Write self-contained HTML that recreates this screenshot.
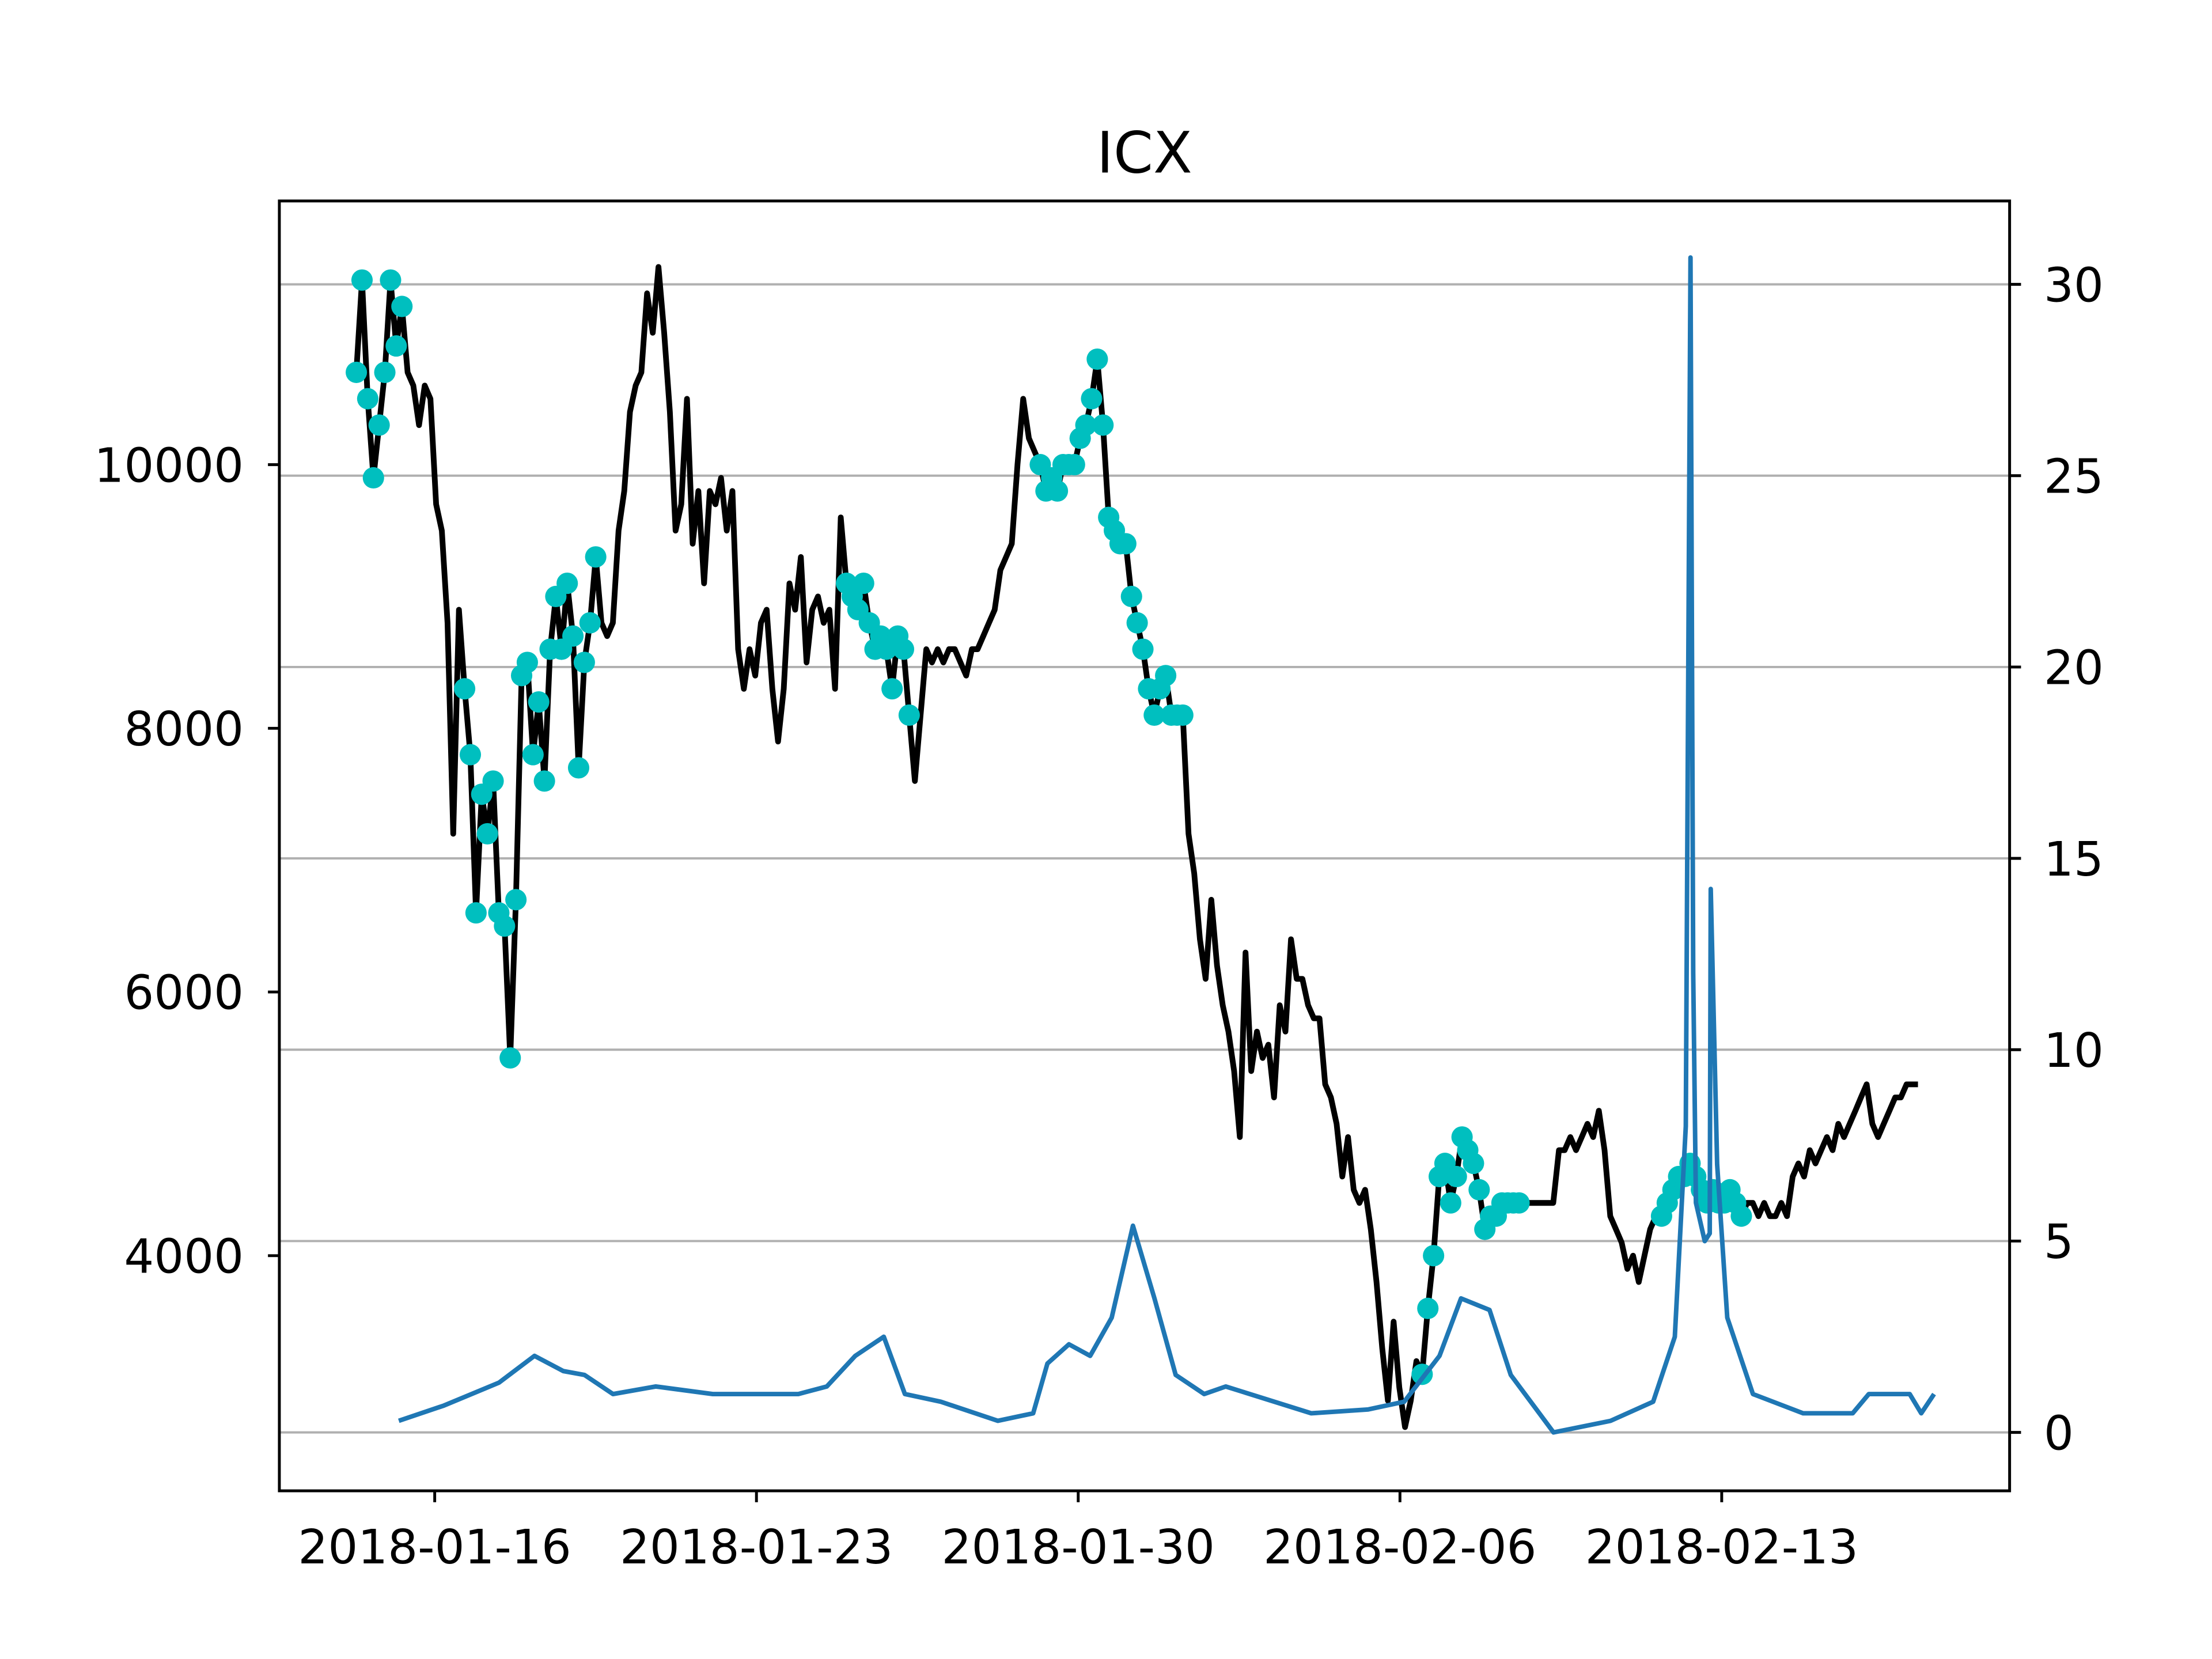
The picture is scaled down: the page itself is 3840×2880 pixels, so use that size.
<!DOCTYPE html>
<html><head><meta charset="utf-8"><style>
html,body{margin:0;padding:0;background:#fff}
svg{display:block;font-family:"DejaVu Sans","Liberation Sans",sans-serif}
</style></head><body>
<svg id="chart" width="3840" height="2880" viewBox="0 0 1552 1164" xmlns="http://www.w3.org/2000/svg">
<rect width="1552" height="1164" fill="#fff"/>
<text x="803" y="121" font-size="40" text-anchor="middle">ICX</text>
<g id="grid"></g><g id="series"></g>
<rect x="196" y="141" width="1214" height="905" fill="none" stroke="#000" stroke-width="2"/>
<g id="axes"></g>
</svg>
<script>
const xTickLabels = ["2018-01-16","2018-01-23","2018-01-30","2018-02-06","2018-02-13"];
const xTickDays = [0,7,14,21,28];
const leftTicks = [4000,6000,8000,10000];
const rightTicks = [0,5,10,15,20,25,30];
const priceStartDay = -1.705;
const priceStepDay = 0.124;
const priceValues = [10700,11400,10500,9900,10300,10700,11400,10900,11200,10700,10600,10300,10600,10500,9700,9500,8800,7200,8900,8300,7800,6600,7500,7200,7600,6600,6500,5500,6700,8400,8500,7800,8200,7600,8600,9000,8600,9100,8700,7700,8500,8800,9300,8800,8700,8800,9500,9800,10400,10600,10700,11300,11000,11500,11000,10400,9500,9700,10500,9400,9800,9100,9800,9700,9900,9500,9800,8600,8300,8600,8400,8800,8900,8300,7900,8300,9100,8900,9300,8500,8900,9000,8800,8900,8300,9600,9100,9000,8900,9100,8800,8600,8700,8600,8300,8700,8600,8100,7600,8100,8600,8500,8600,8500,8600,8600,8500,8400,8600,8600,8700,8800,8900,9200,9300,9400,10000,10500,10200,10100,10000,9800,9900,9800,10000,10000,10000,10200,10300,10500,10800,10300,9600,9500,9400,9400,9000,8800,8600,8300,8100,8300,8400,8100,8100,8100,7200,6900,6400,6100,6700,6200,5900,5700,5400,4900,6300,5400,5700,5500,5600,5200,5900,5700,6400,6100,6100,5900,5800,5800,5300,5200,5000,4600,4900,4500,4400,4500,4200,3800,3300,2900,3500,3000,2700,2900,3200,3100,3600,4000,4600,4700,4400,4600,4900,4800,4700,4500,4200,4300,4300,4400,4400,4400,4400,4400,4400,4400,4400,4400,4400,4800,4800,4900,4800,4900,5000,4900,5100,4800,4300,4200,4100,3900,4000,3800,4000,4200,4300,4300,4400,4500,4600,4600,4700,4600,4500,4400,4500,4400,4400,4500,4400,4300,4400,4400,4300,4400,4300,4300,4400,4300,4600,4700,4600,4800,4700,4800,4900,4800,5000,4900,5000,5100,5200,5300,5000,4900,5000,5100,5200,5200,5300,5300,5300];
const markerRanges = [[0,8],[19,42],[86,97],[120,145],[187,204],[229,243]];
const volDays = [-0.78,0.2,1.40,2.17,2.8,3.26,3.88,4.81,6.05,7.91,8.53,9.15,9.77,10.23,11.01,12.25,13.02,13.33,13.80,14.26,14.73,15.19,15.66,16.12,16.74,17.21,19.07,20.31,21.09,21.86,22.33,22.95,23.41,24.34,25.58,26.51,26.98,27.22,27.32,27.38,27.44,27.63,27.74,27.76,27.9,28.12,28.68,29.77,30.85,31.2,31.47,32.09,32.34,32.62];
const volValues = [0.3,0.7,1.3,2.0,1.6,1.5,1.0,1.2,1.0,1.0,1.2,2.0,2.5,1.0,0.8,0.3,0.5,1.8,2.3,2.0,3.0,5.4,3.5,1.5,1.0,1.2,0.5,0.6,0.8,2.0,3.5,3.2,1.5,0.0,0.3,0.8,2.5,8,30.7,12,6,5,5.2,14.2,7,3,1,0.5,0.5,1.0,1.0,1.0,0.5,1.0];

const xS = d => 305 + d*32.25;
const yL = v => 326 + (10000 - v)*185/2000;
const yR = v => 1005 - v*26.85;
const NS = "http://www.w3.org/2000/svg";
function mk(tag, attrs, parent){const e=document.createElementNS(NS,tag);for(const k in attrs)e.setAttribute(k,attrs[k]);parent.appendChild(e);return e;}
const grid=document.getElementById('grid'), ser=document.getElementById('series'), ax=document.getElementById('axes');
rightTicks.forEach(t=>{
  const l=mk('line',{x1:196,x2:1410,y1:yR(t),y2:yR(t),stroke:'#b0b0b0','stroke-width':1.6},grid);
  
  
  const k=mk('line',{x1:1410,x2:1418,y1:yR(t),y2:yR(t),stroke:'#000','stroke-width':2},ax);
  
  
  const tx=mk('text',{x:1434,y:yR(t)+12,'font-size':33},ax);tx.textContent=t;
  
  
});
leftTicks.forEach(t=>{
  const k=mk('line',{x1:188,x2:196,y1:yL(t),y2:yL(t),stroke:'#000','stroke-width':2},ax);
  
  
  const tx=mk('text',{x:171,y:yL(t)+12,'font-size':33,'text-anchor':'end'},ax);tx.textContent=t;
  
  
});
xTickDays.forEach((d,i)=>{
  const k=mk('line',{x1:xS(d),x2:xS(d),y1:1046,y2:1054,stroke:'#000','stroke-width':2},ax);
  
  
  const tx=mk('text',{x:xS(d),y:1097,'font-size':33,'text-anchor':'middle'},ax);tx.textContent=xTickLabels[i];
  
  
});
const pp=priceValues.map((v,i)=>xS(priceStartDay+i*priceStepDay).toFixed(1)+','+yL(v).toFixed(1)).join(' ');
const pl=mk('polyline',{points:pp,fill:'none',stroke:'#000','stroke-width':4,'stroke-linejoin':'round'},ser);


markerRanges.forEach(r=>{for(let i=r[0];i<=r[1]&&i<priceValues.length;i++){
  const c=mk('circle',{cx:xS(priceStartDay+i*priceStepDay),cy:yL(priceValues[i]),r:7.5,fill:'#00bfbf'},ser);
  
  
}});
const vp=volDays.map((d,i)=>xS(d).toFixed(1)+','+yR(volValues[i]).toFixed(1)).join(' ');
const vl=mk('polyline',{points:vp,fill:'none',stroke:'#1f77b4','stroke-width':3.2,'stroke-linejoin':'round'},ser);


</script>
</body></html>
